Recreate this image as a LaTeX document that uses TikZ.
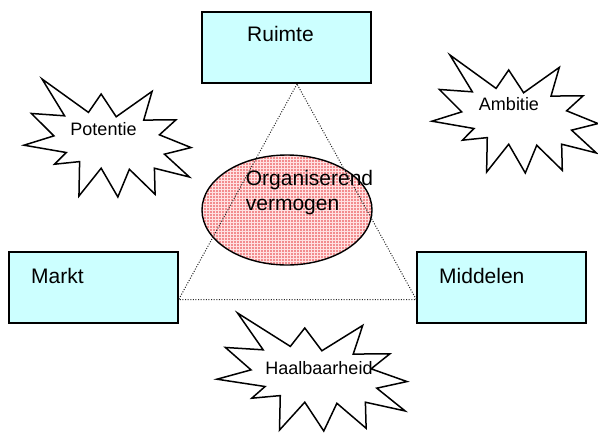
\documentclass[tikz,border=0pt]{standalone}
\usepackage{fontspec}
\setmainfont{Liberation Sans}
\usetikzlibrary{shapes.geometric}
\definecolor{boxcyan}{RGB}{204,255,255}
\definecolor{pinkbase}{RGB}{242,140,142}
\definecolor{pinkgrid}{RGB}{255,225,225}
\tikzset{
  box/.style={draw=black, line width=1.4pt, fill=boxcyan, rectangle, inner sep=0pt},
  burst/.style={draw=black, line width=1.5pt, fill=white, line join=miter},
  bigtxt/.style={font=\fontsize{21}{24}\selectfont, inner sep=0pt, anchor=base west},
  smalltxt/.style={font=\fontsize{18}{21}\selectfont, inner sep=0pt, anchor=base},
  tri/.style={black!85, line width=1pt, dash pattern=on 1pt off 1.6pt},
}
\newcommand\mystarburst[4]{%
  \begin{scope}[shift={(#1,#2)}, xscale=#3, yscale=#4]
    \draw[burst] (0.108,0) -- (0.386,0.283) -- (0.462,0.127) -- (0.552,0.320)
      -- (0.767,0.105) -- (0.717,0.348) -- (0.910,0.346) -- (0.811,0.473)
      -- (1.0,0.581) -- (0.841,0.637) -- (0.990,0.830) -- (0.781,0.756)
      -- (0.785,0.977) -- (0.631,0.765) -- (0.562,1.0) -- (0.462,0.756)
      -- (0.329,0.992) -- (0.333,0.700) -- (0.183,0.722) -- (0.253,0.623)
      -- (0,0.561) -- (0.179,0.482) -- (0.044,0.292) -- (0.243,0.312) -- cycle;
  \end{scope}}
\begin{document}
\begin{tikzpicture}[x=1pt, y=-1pt]
\useasboundingbox (0,0) rectangle (598,432);

% boxes
\node[box, minimum width=169pt, minimum height=71pt] (ruimte) at (286.5,47.5) {};
\node[box, minimum width=169pt, minimum height=71pt] (markt) at (93.5,287.5) {};
\node[box, minimum width=169pt, minimum height=71pt] (middelen) at (501.5,287.5) {};
\node[bigtxt] (ruimtetxt) at (247,41.7) {Ruimte};
\node[bigtxt] (markttxt) at (31,283) {Markt};
\node[bigtxt] (middelentxt) at (439,283) {Middelen};

% ellipse
\node[draw=none, ellipse, minimum width=170pt, minimum height=110pt, inner sep=0pt] (org) at (287,210) {};
\begin{scope}
  \clip (287,210) ellipse [x radius=85, y radius=55];
  \fill[pinkbase] (200,150) rectangle (375,270);
  \foreach \gx in {200.5,203.5,...,376} {\draw[pinkgrid, line width=0.8pt] (\gx,150) -- (\gx,270);}
  \foreach \gy in {150.5,153.5,...,271} {\draw[pinkgrid, line width=0.8pt] (200,\gy) -- (375,\gy);}
\end{scope}
\draw[black, line width=1.4pt] (287,210) ellipse [x radius=85, y radius=55];
\node[bigtxt] (orgtxt1) at (245.7,185) {Organiserend};
\node[bigtxt] (orgtxt2) at (245.7,210) {vermogen};

% triangle
\coordinate (apex) at (297,84);
\coordinate (bl) at (markt.east |- 0,299.5);
\coordinate (br) at (middelen.west |- 0,299.5);
\draw[tri] (apex) -- (bl) -- (br) -- cycle;

% starbursts
\mystarburst{24}{79}{167}{118}
\node[smalltxt] (potentie) at (103.5,135) {Potentie};
\mystarburst{432}{55}{166}{118}
\node[smalltxt] (ambitie) at (509,110.7) {Ambitie};
\mystarburst{217}{313}{190}{118}
\node[smalltxt] (haalbaarheid) at (319,374) {Haalbaarheid};
\end{tikzpicture}
\end{document}
